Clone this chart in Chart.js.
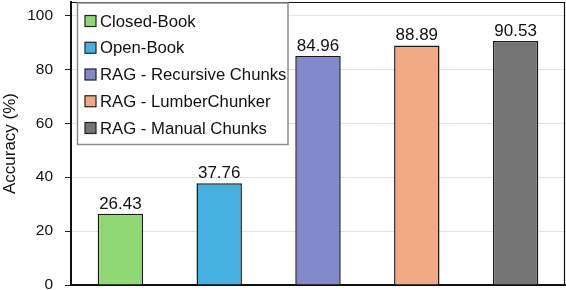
<!DOCTYPE html>
<html>
<head>
<meta charset="utf-8">
<script src="https://cdn.jsdelivr.net/npm/chart.js@4.4.0/dist/chart.umd.min.js"></script>
<style>
  html, body { margin: 0; padding: 0; background: #fff; }
  #wrap { width: 566px; height: 290px; }
</style>
</head>
<body>
<div id="wrap"><canvas id="chart"></canvas></div>
<script>
// === DATA ===
let categories = ["Closed-Book", "Open-Book", "RAG - Recursive Chunks", "RAG - LumberChunker", "RAG - Manual Chunks"];
let accuracy = [26.43, 37.76, 84.96, 88.89, 90.53];
let barColors = ["#8fd873", "#46b1e1", "#8289cb", "#f1a983", "#747474"];
let yTicks = [0, 20, 40, 60, 80, 100];

const FONT = '"Liberation Sans", Arial, sans-serif';

// === VALUE LABELS ABOVE BARS ===
const valueLabels = {
  id: "valueLabels",
  afterDatasetsDraw(chart) {
    const ctx = chart.ctx;
    const meta = chart.getDatasetMeta(0);
    ctx.save();
    ctx.font = "17px " + FONT;
    ctx.fillStyle = "#111";
    ctx.textAlign = "center";
    ctx.textBaseline = "alphabetic";
    meta.data.forEach((bar, i) => {
      ctx.fillText(accuracy[i].toFixed(2), bar.x, bar.y - 5);
    });
    ctx.restore();
  }
};

// === FRAME + LEGEND BOX ===
const frameLegend = {
  id: "frameLegend",
  afterDraw(chart) {
    const ctx = chart.ctx;
    const a = chart.chartArea;
    ctx.save();

    // top + right frame
    ctx.strokeStyle = "#111";
    ctx.lineWidth = 1.2;
    ctx.beginPath();
    ctx.moveTo(a.left, a.top + 0.5);
    ctx.lineTo(a.right - 0.5, a.top + 0.5);
    ctx.lineTo(a.right - 0.5, a.bottom);
    ctx.stroke();

    // legend
    let lx = a.left + 6.5, ly = a.top + 1, lw = 210.5, lh = 141.5;
    ctx.fillStyle = "#fff";
    ctx.fillRect(lx, ly, lw, lh);
    ctx.strokeStyle = "#8c8c8c";
    ctx.lineWidth = 1.5;
    ctx.strokeRect(lx, ly, lw, lh);

    ctx.font = "16.7px " + FONT;
    ctx.textBaseline = "middle";
    ctx.textAlign = "left";
    categories.forEach((c, i) => {
      let cy = a.top + 19 + i * 26.75;
      ctx.fillStyle = barColors[i];
      ctx.fillRect(lx + 7.5, cy - 5.5, 11, 11);
      ctx.strokeStyle = "#222";
      ctx.lineWidth = 1.2;
      ctx.strokeRect(lx + 7.5, cy - 5.5, 11, 11);
      ctx.fillStyle = "#111";
      ctx.fillText(c, lx + 22.5, cy + 1);
    });
    ctx.restore();
  }
};

new Chart(document.getElementById("chart"), {
  type: "bar",
  data: {
    labels: categories,
    datasets: [{
      data: accuracy,
      backgroundColor: barColors,
      borderColor: "#1a1a1a",
      borderWidth: 1.5,
      categoryPercentage: 1,
      barPercentage: 0.46
    }]
  },
  options: {
    responsive: true,
    maintainAspectRatio: false,
    animation: false,
    layout: { padding: { top: 2, right: 1, left: 0, bottom: 0 } },
    plugins: {
      legend: { display: false },
      tooltip: { enabled: false }
    },
    scales: {
      x: {
        ticks: { display: false },
        grid: { display: false },
        border: { display: true, color: "#111", width: 2 },
        afterFit(scale) { scale.height = 5; }
      },
      y: {
        min: 0,
        max: 105,
        afterBuildTicks(scale) {
          scale.ticks = yTicks.map(v => ({ value: v }));
        },
        ticks: {
          color: "#111",
          padding: 12,
          font: { family: FONT, size: 15.5 }
        },
        grid: {
          color: "#e3e3e3",
          tickColor: "#222",
          tickLength: 6
        },
        border: { display: true, color: "#111", width: 2 },
        title: {
          display: true,
          text: "Accuracy (%)",
          color: "#111",
          padding: 0,
          font: { family: FONT, size: 17 }
        },
        afterFit(scale) {
          scale.width = 71;
          // no extra room above/below for the tick labels
          scale.paddingTop = 0;
          scale.paddingBottom = 0;
        }
      }
    }
  },
  plugins: [valueLabels, frameLegend]
});
</script>
</body>
</html>
